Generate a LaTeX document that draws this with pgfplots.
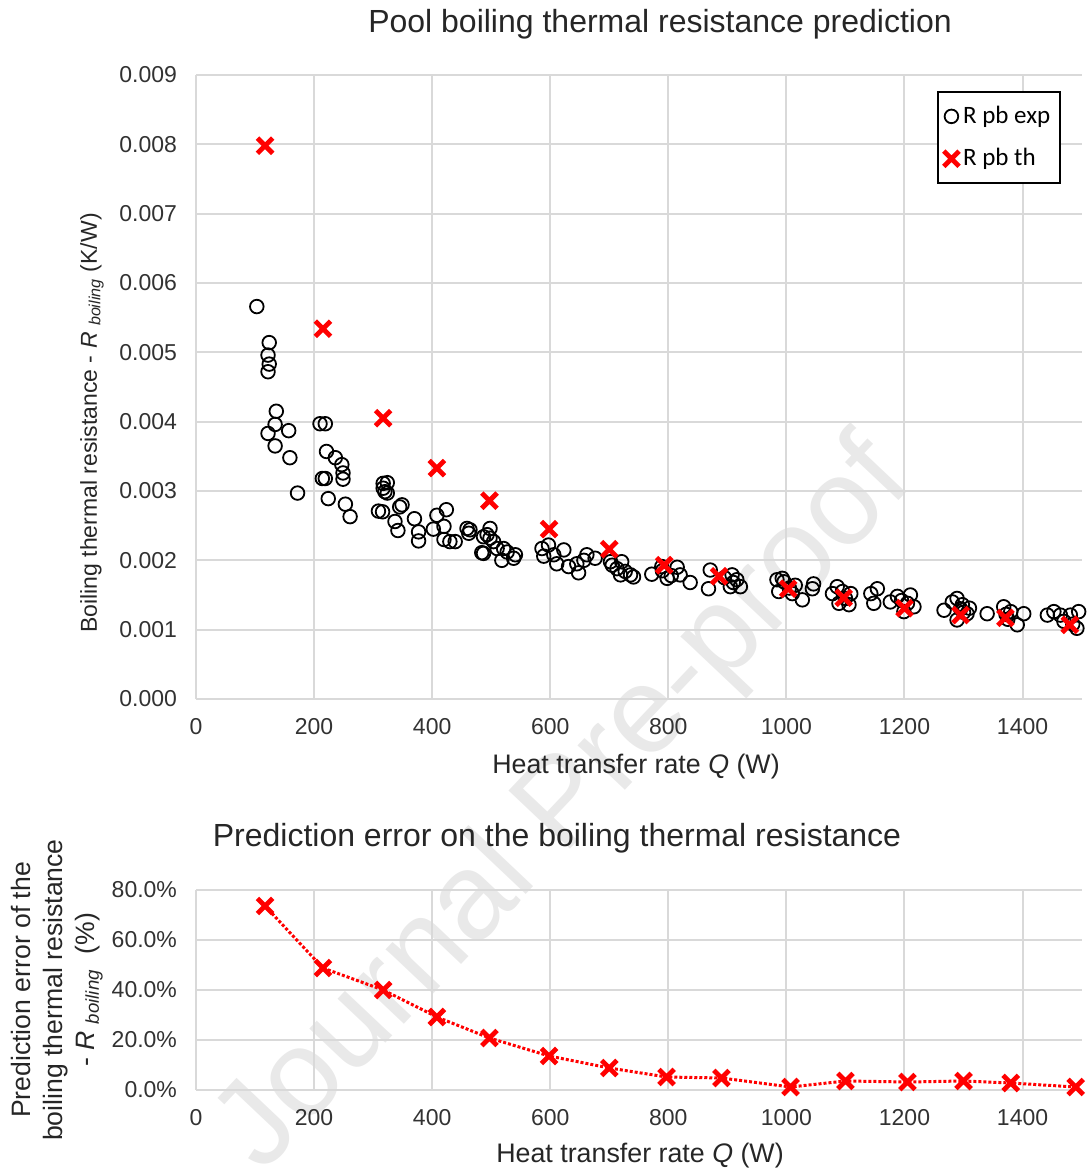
\documentclass[border=0pt]{standalone}
\usepackage{fontspec}
\setmainfont{Liberation Sans}
\newfontfamily\calibri{Carlito}
\usepackage{pgfplots}
\pgfplotsset{compat=1.18}
\definecolor{gridc}{RGB}{217,217,217}
\definecolor{tickc}{RGB}{50,50,50}
\definecolor{xred}{RGB}{255,0,0}

\pgfplotstableread{
x y
103 0.00566
124 0.00514
122 0.00496
124 0.00483
122 0.00472
136 0.00415
134 0.00396
122 0.00383
157 0.00387
134 0.00365
159 0.00348
172 0.00297
210 0.00397
219 0.00397
221 0.00357
236 0.00348
247 0.00338
249 0.00326
249 0.00317
214 0.00318
219 0.00318
224 0.00289
253 0.00281
261 0.00263
317 0.00311
324 0.00312
317 0.00304
320 0.00299
324 0.00297
309 0.00271
316 0.00270
337 0.00256
342 0.00243
345 0.00277
349 0.00280
370 0.00260
377 0.00241
377 0.00228
402 0.00245
408 0.00265
420 0.00249
424 0.00273
420 0.00230
430 0.00227
439 0.00227
459 0.00246
462 0.00239
464 0.00244
487 0.00234
484 0.00211
498 0.00246
493 0.00237
498 0.00232
504 0.00227
487 0.00210
510 0.00217
521 0.00217
518 0.00200
527 0.00212
541 0.00208
538 0.00203
586 0.00217
597 0.00222
589 0.00206
606 0.00208
611 0.00195
623 0.00215
631 0.00191
645 0.00195
648 0.00182
657 0.00200
662 0.00208
676 0.00203
702 0.00198
705 0.00193
713 0.00188
721 0.00198
719 0.00179
727 0.00184
736 0.00179
741 0.00176
772 0.00180
789 0.00191
790 0.00185
798 0.00174
805 0.00178
815 0.00190
820 0.00179
837 0.00168
871 0.00186
868 0.00159
895 0.00175
908 0.00179
910 0.00168
916 0.00172
922 0.00162
905 0.00162
984 0.00172
987 0.00155
996 0.00169
993 0.00174
1005 0.00160
1010 0.00152
1015 0.00164
1027 0.00143
1046 0.00166
1044 0.00159
1078 0.00152
1086 0.00162
1089 0.00138
1095 0.00155
1100 0.00145
1109 0.00152
1106 0.00136
1143 0.00152
1154 0.00159
1148 0.00138
1176 0.00140
1188 0.00148
1195 0.00142
1205 0.00138
1210 0.00150
1199 0.00126
1216 0.00133
1267 0.00128
1281 0.00140
1289 0.00145
1295 0.00130
1298 0.00136
1300 0.00125
1306 0.00123
1310 0.00131
1289 0.00114
1340 0.00123
1368 0.00133
1372 0.00122
1375 0.00115
1380 0.00126
1402 0.00123
1391 0.00107
1442 0.00121
1453 0.00126
1464 0.00121
1470 0.00112
1481 0.00121
1485 0.00108
1495 0.00126
1492 0.00102
}\exptable

\pgfplotstableread{
x y
117 0.00798
215 0.00534
317 0.00405
408 0.00333
497 0.00286
598 0.00245
700 0.00216
793 0.00193
886 0.00177
1003 0.00159
1097 0.00146
1200 0.00131
1295 0.00121
1371 0.00117
1480 0.00107
}\thtable

\pgfplotstableread{
x y
117 73.6
215 48.8
317 40.0
408 29.2
497 20.8
598 13.6
700 8.8
797 5.2
890 4.8
1007 1.2
1100 3.6
1205 3.2
1300 3.6
1380 2.8
1490 1.2
}\errtable

\begin{document}
\begin{tikzpicture}[x=1pt,y=1pt]
\useasboundingbox (0,0) rectangle (544.5,585.5);
\node[rotate=46.6, text=gray!17, font=\fontsize{61.5}{62}\selectfont, anchor=center] at (283,182) {Journal Pre-proof};

\pgfplotsset{
  mybase/.style={
    scale only axis, width=442.8pt, anchor=south west,
    xmin=0, xmax=1500,
    xtick={0,200,400,600,800,1000,1200,1400},
    grid=major, major grid style={gridc, line width=1pt},
    axis line style={draw=none}, tick style={draw=none},
    ticklabel style={font=\fontsize{11.5}{13}\selectfont, text=tickc},
    /pgf/number format/assume math mode=true,
    /pgf/number format/1000 sep={},
    clip=false,
    xticklabel style={yshift=-6pt},
    yticklabel style={xshift=-6pt},
  }
}

\begin{axis}[mybase,
  at={(98pt,236pt)}, height=312pt,
  ymin=0, ymax=0.009,
  ytick={0,0.001,0.002,0.003,0.004,0.005,0.006,0.007,0.008,0.009},
  yticklabels={0.000,0.001,0.002,0.003,0.004,0.005,0.006,0.007,0.008,0.009},
  scaled y ticks=false,
  legend style={at={(0.977,0.974)}, anchor=north east, draw=black, line width=1pt,
    font=\calibri\fontsize{12.5}{14}\selectfont, row sep=7pt, inner xsep=3pt, inner ysep=5pt},
  legend cell align=left,
]
\addplot[only marks, mark=o, mark size=3.4pt, black, line width=0.9pt] table {\exptable};
\addlegendentry{R pb exp}
\addplot[only marks, mark=x, mark size=5.4pt, xred, line width=2.4pt] table {\thtable};
\addlegendentry{R pb th}
\end{axis}

\begin{axis}[mybase,
  at={(98pt,40.5pt)}, height=100pt,
  ymin=0, ymax=80,
  ytick={0,20,40,60,80},
  yticklabels={0.0\%,20.0\%,40.0\%,60.0\%,80.0\%},
]
\addplot[xred, densely dotted, line width=1.5pt, mark=x, mark size=5.4pt,
  mark options={solid, line width=2.4pt}] table {\errtable};
\end{axis}

\node[font=\fontsize{16}{18}\selectfont, text=black!85] at (330,573.5) {Pool boiling thermal resistance prediction};
\node[font=\fontsize{13.4}{15}\selectfont, text=black!85] at (318,202) {Heat transfer rate \textit{Q} (W)};
\node[rotate=90, font=\fontsize{11.5}{14}\selectfont, text=black!85] at (46,374) {Boiling thermal resistance - \textit{R} \textsubscript{\textit{boiling}} (K/W)};

\node[font=\fontsize{16}{18}\selectfont, text=black!85] at (278.5,166.5) {Prediction error on the boiling thermal resistance};
\node[font=\fontsize{13.4}{15}\selectfont, text=black!85] at (320,7.5) {Heat transfer rate \textit{Q} (W)};
\node[rotate=90, align=center, font=\fontsize{13.3}{16}\selectfont, text=black!85] at (28.5,90.5) {Prediction error of the\\boiling thermal resistance\\- \textit{R} \textsubscript{\textit{boiling}}\ \ (\%)};
\end{tikzpicture}
\end{document}
